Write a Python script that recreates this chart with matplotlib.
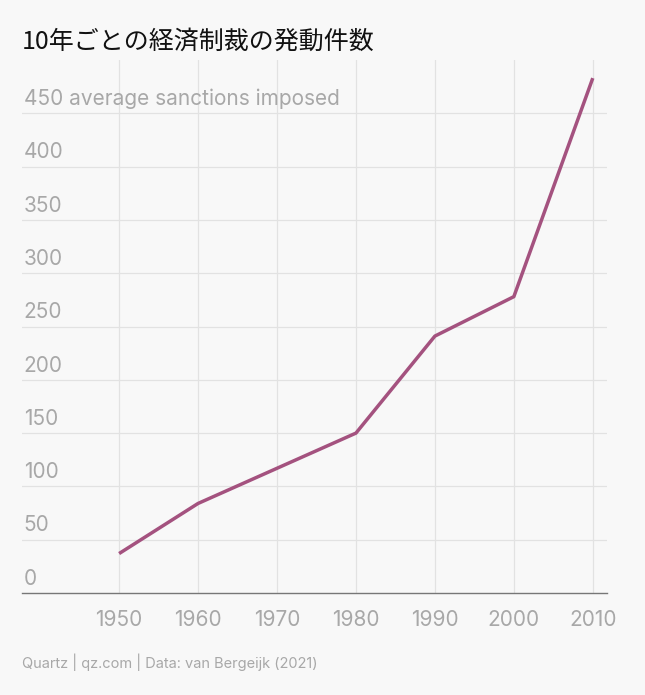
import matplotlib
matplotlib.use("Agg")
import matplotlib.pyplot as plt

years = [1950, 1960, 1970, 1980, 1990, 2000, 2010]
sanctions = [37, 84, 117, 150, 241, 278, 483]
yticks = [0, 50, 100, 150, 200, 250, 300, 350, 400, 450]
xticks = [1950, 1960, 1970, 1980, 1990, 2000, 2010]

bg = "#f8f8f8"
gray = "#a8a8a8"
fig = plt.figure(figsize=(6.45, 6.95), dpi=100, facecolor=bg)
ax = fig.add_axes([22/645, 1-593/695, 585/645, 533/695], facecolor=bg)
ax.set_xlim(1937.7, 2011.8)
ax.set_ylim(0, 500)
for y in yticks[1:]:
    ax.axhline(y, color="#e2e2e2", lw=0.9, zorder=1)
for x in xticks:
    ax.axvline(x, color="#e2e2e2", lw=0.9, zorder=1)
for y in yticks:
    lab = f"{y} average sanctions imposed" if y == 450 else str(y)
    ax.text(1937.9, y + 4, lab, color=gray, fontsize=15, fontfamily="Inter", va="bottom", ha="left")
ax.plot(years, sanctions, color="#a4527f", lw=2.5, zorder=3, solid_capstyle="butt")
ax.set_yticks([])
ax.set_xticks(xticks)
ax.set_xticklabels([str(x) for x in xticks], fontsize=15, color=gray, fontfamily="Inter")
ax.tick_params(axis="x", length=0, pad=12)
for s in ["top", "right", "left"]:
    ax.spines[s].set_visible(False)
ax.spines["bottom"].set_color("#777777")
ax.spines["bottom"].set_linewidth(1)
fig.text(22/645, 1-42/695, "10年ごとの経済制裁の発動件数", fontsize=18, fontfamily="Noto Sans CJK JP", color="#111111", va="center")
fig.text(22/645, 1-662/695, "Quartz | qz.com | Data: van Bergeijk (2021)", fontsize=10.5, fontfamily="Inter", color=gray, va="center")
fig.savefig("out.png", dpi=100, facecolor=bg)
